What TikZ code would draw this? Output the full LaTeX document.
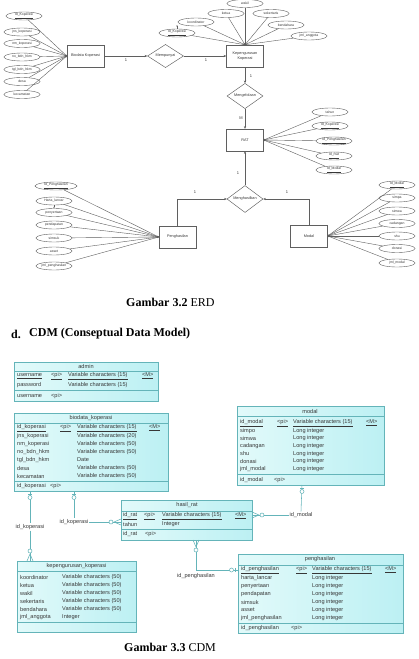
\documentclass[tikz,border=0pt]{standalone}
\usepackage{fontspec}
\setmainfont{Liberation Serif}
\setsansfont{Liberation Sans}
\usetikzlibrary{shapes.geometric,arrows.meta,calc}
\definecolor{tb}{RGB}{100,180,185}
\definecolor{tf1}{RGB}{226,250,250}
\definecolor{tf2}{RGB}{188,240,243}
\definecolor{tt}{RGB}{55,55,55}
\definecolor{el}{RGB}{95,95,95}
\newcounter{cellc}
\newcommand\tcell[3]{\stepcounter{cellc}\node[tcellst] (c\arabic{cellc}) at (#1,#2) {#3};}
\newcommand\kul[1]{\underline{#1}}
\tikzset{
  attr/.style={ellipse, draw=el, line width=0.4pt, minimum width=36pt, minimum height=8pt, inner sep=0pt, font=\sffamily\fontsize{3.4}{4}\selectfont, text=tt},
  ent/.style={rectangle, draw=el, line width=0.45pt, minimum width=37pt, minimum height=22pt, inner sep=0pt, font=\sffamily\fontsize{3.8}{4.4}\selectfont, text=tt, align=center},
  rel/.style={diamond, draw=el, line width=0.45pt, minimum width=36pt, minimum height=22pt, inner sep=0pt, font=\sffamily\fontsize{3.8}{4.4}\selectfont, text=tt},
  erl/.style={draw=el, line width=0.4pt},
  earr/.style={-{Stealth[length=2.6pt,width=2.2pt]}},
  tarr/.style={-{Stealth[length=1.6pt,width=1.4pt]}},
  card/.style={font=\sffamily\fontsize{4}{4.5}\selectfont, text=tt, inner sep=0pt},
  tbl/.style={draw=tb, line width=0.55pt, left color=tf1, right color=tf2, inner sep=0pt, outer sep=0pt, anchor=north west},
  tcellst/.style={anchor=west, inner sep=0pt, font=\sffamily\fontsize{5.6}{6}\selectfont, text=tt},
  lnk/.style={draw=tb, line width=0.55pt},
  lbl/.style={font=\sffamily\fontsize{5.6}{6}\selectfont, text=tt, inner sep=0.8pt},
  captxt/.style={font=\fontsize{12}{14}\selectfont, inner sep=0pt}
}
\begin{document}
\begin{tikzpicture}[x=1pt,y=-1pt]
\useasboundingbox[fill=white] (0,0) rectangle (418,659);

% ================= ERD =================
\node[ent] (bio) at (85.5,56) {Biodata Koperasi};
\node[rel] (mem) at (165.5,56) {Mempunyai};
\node[ent] (kep) at (245,56) {Kepengurusan\\Koperasi};
\node[rel] (mgl) at (245,96) {Mengelolaan};
\node[ent] (rat) at (245,140) {RAT};
\node[rel] (mgh) at (245,199) {Menghasilkan};
\node[ent] (phs) at (177.5,237) {Penghasilan};
\node[ent] (mdl) at (309,236) {Modal};

\draw[erl,earr] (bio) -- (mem);
\draw[erl,earr] (mem) -- (kep);
\draw[erl,earr] (kep) -- (mgl);
\draw[erl,earr] (mgl) -- (rat);
\draw[erl,earr] (mgh) -- (rat);
\draw[erl,earr] (phs.north) |- (mgh.west);
\draw[erl,earr] (mdl.north) |- (mgh.east);

\node[card] (n1) at (126,60) {1};
\node[card] (n2) at (206,60) {1};
\node[card] (n3) at (251,76) {1};
\node[card] (n4) at (241,118) {M};
\node[card] (n5) at (238,173) {1};
\node[card] (n6) at (195,192) {1};
\node[card] (n7) at (287,192) {1};

% Biodata attributes
\node[attr] (a1) at (24,16) {\kul{Id\_Koperasi}};
\node[attr] (a2) at (22,32) {jns\_koperasi};
\node[attr] (a3) at (22,43.5) {nm\_koperasi};
\node[attr] (a4) at (22,57) {no\_bdn\_hkm};
\node[attr] (a5) at (22,69.5) {tgl\_bdn\_hkm};
\node[attr] (a6) at (22,81.5) {desa};
\node[attr] (a7) at (22,94.5) {kecamatan};
\foreach \i in {1,...,7} \draw[erl,tarr] (a\i) -- (bio.west);

% Kepengurusan attributes
\node[attr] (k1) at (245,3.5) {wakil};
\node[attr] (k2) at (226,13.5) {ketua};
\node[attr] (k3) at (271,13.5) {sekertaris};
\node[attr] (k4) at (286,25) {bendahara};
\node[attr] (k5) at (309,36) {jml\_anggota};
\node[attr] (k6) at (196,22) {koordinator};
\node[attr] (k7) at (177,33) {\kul{Id\_Koperasi}};
\foreach \i in {1,...,7} \draw[erl,tarr] (k\i) -- (kep.north);
\coordinate (k7t) at (177,25);
\draw[erl,tarr] (k7.north) -- (k7t);

% RAT attributes
\node[attr] (r1) at (330,112) {tahun};
\node[attr] (r2) at (330,126) {\kul{Id\_Koperasi}};
\node[attr] (r3) at (334,141) {\kul{Id\_Penghasilan}};
\node[attr] (r4) at (334,156) {\kul{Id\_Rat}};
\node[attr] (r5) at (334,170) {\kul{Id\_Modal}};
\foreach \i in {1,...,5} \draw[erl,tarr] (r\i) -- (rat.east);

% Penghasilan attributes
\node[attr,minimum width=42pt] (p1) at (56,186) {\kul{Id\_Penghasilan}};
\node[attr] (p2) at (54,201) {Harta\_lancar};
\node[attr] (p3) at (54,212.5) {penyertaan};
\node[attr] (p4) at (54,225) {pendapatan};
\node[attr] (p5) at (54,238) {simsuk};
\node[attr] (p6) at (54,251) {asset};
\node[attr] (p7) at (54,266) {jml\_penghasilan};
\foreach \i in {1,...,7} \draw[erl,tarr] (p\i) -- (phs.west);
\draw[erl,tarr] (p2.south) -- (p3.north);

% Modal attributes
\node[attr] (m1) at (397,185) {\kul{Id\_Modal}};
\node[attr] (m2) at (397,198) {simpa};
\node[attr] (m3) at (397,211) {simwa};
\node[attr] (m4) at (397,223.5) {cadangan};
\node[attr] (m5) at (397,236) {shu};
\node[attr] (m6) at (397,248.5) {donasi};
\node[attr] (m7) at (397,263) {jml\_modal};
\foreach \i in {1,...,7} \draw[erl,tarr] (m\i) -- (mdl.east);

% captions
\node[captxt,anchor=west] (cap1) at (126,302) {\textbf{Gambar 3.2} ERD};
\node[captxt,anchor=west] (dd) at (11,334) {\textbf{d.}};
\node[captxt,anchor=west] (cap2) at (29,334) {\textbf{CDM (Conseptual Data Model)}};
\node[captxt,anchor=west] (cap3) at (124,647) {\textbf{Gambar 3.3} CDM};

% ================= CDM =================
% admin
\node[tbl,minimum width=144pt,minimum height=39pt] (adm) at (14,362) {};
\draw[lnk] (14,371) -- (158,371);
\draw[lnk] (14,390) -- (158,390);
\node[lbl] (admh) at (86,366.5) {admin};
\tcell{17}{376}{\kul{username}}
\tcell{51}{376}{\kul{<pi>}}
\tcell{68}{376}{\kul{Variable characters (15)}}
\tcell{142}{376}{\kul{<M>}}
\tcell{17}{385}{password}
\tcell{68}{385}{Variable characters (15)}
\tcell{17}{396}{username}
\tcell{51}{396}{<pi>}

% biodata_koperasi
\node[tbl,minimum width=154pt,minimum height=78pt] (bk) at (14,413) {};
\draw[lnk] (14,423) -- (168,423);
\draw[lnk] (14,481) -- (168,481);
\node[lbl] (bkh) at (91,418) {biodata\_koperasi};
\tcell{17}{428}{\kul{id\_koperasi}}
\tcell{60}{428}{\kul{<pi>}}
\tcell{77}{428}{\kul{Variable characters (15)}}
\tcell{149}{428}{\kul{<M>}}
\tcell{17}{436}{jns\_koperasi}
\tcell{77}{436}{Variable characters (20)}
\tcell{17}{444}{nm\_koperasi}
\tcell{77}{444}{Variable characters (50)}
\tcell{17}{452}{no\_bdn\_hkm}
\tcell{77}{452}{Variable characters (50)}
\tcell{17}{460}{tgl\_bdn\_hkm}
\tcell{77}{460}{Date}
\tcell{17}{468}{desa}
\tcell{77}{468}{Variable characters (50)}
\tcell{17}{476}{kecamatan}
\tcell{77}{476}{Variable characters (50)}
\tcell{17}{486}{id\_koperasi}
\tcell{50}{486}{<pi>}

% modal
\node[tbl,minimum width=147pt,minimum height=79pt] (md) at (237,406) {};
\draw[lnk] (237,416) -- (384,416);
\draw[lnk] (237,474) -- (384,474);
\node[lbl] (mdh) at (310,411.5) {modal};
\tcell{240}{423}{\kul{id\_modal}}
\tcell{277}{423}{\kul{<pi>}}
\tcell{293}{423}{\kul{Variable characters (15)}}
\tcell{366}{423}{\kul{<M>}}
\tcell{240}{430.7}{simpo}
\tcell{293}{430.7}{Long integer}
\tcell{240}{438.4}{simwa}
\tcell{293}{438.4}{Long integer}
\tcell{240}{446.1}{cadangan}
\tcell{293}{446.1}{Long integer}
\tcell{240}{453.8}{shu}
\tcell{293}{453.8}{Long integer}
\tcell{240}{461.5}{donasi}
\tcell{293}{461.5}{Long integer}
\tcell{240}{469.2}{jml\_modal}
\tcell{293}{469.2}{Long integer}
\tcell{240}{480}{id\_modal}
\tcell{274}{480}{<pi>}

% hasil_rat
\node[tbl,minimum width=131pt,minimum height=40pt] (hr) at (121,500) {};
\draw[lnk] (121,511) -- (252,511);
\draw[lnk] (121,529) -- (252,529);
\node[lbl] (hrh) at (187,505.5) {hasil\_rat};
\tcell{123}{516}{\kul{id\_rat}}
\tcell{144}{516}{\kul{<pi>}}
\tcell{162}{516}{\kul{Variable characters (15)}}
\tcell{235}{516}{\kul{<M>}}
\tcell{123}{524}{tahun}
\tcell{162}{524}{Integer}
\tcell{123}{534}{id\_rat}
\tcell{145}{534}{<pi>}

% kepengurusan_koperasi
\node[tbl,minimum width=119pt,minimum height=71pt] (kk) at (17,561) {};
\draw[lnk] (17,571) -- (136,571);
\draw[lnk] (17,622) -- (136,622);
\node[lbl] (kkh) at (76.5,566) {kepengurusan\_koperasi};
\tcell{20}{577}{koordinator}
\tcell{62}{577}{Variable characters (50)}
\tcell{20}{585}{ketua}
\tcell{62}{585}{Variable characters (50)}
\tcell{20}{593}{wakil}
\tcell{62}{593}{Variable characters (50)}
\tcell{20}{601}{sekertaris}
\tcell{62}{601}{Variable characters (50)}
\tcell{20}{609}{bendahara}
\tcell{62}{609}{Variable characters (50)}
\tcell{20}{617}{jml\_anggota}
\tcell{62}{617}{Integer}

% penghasilan
\node[tbl,minimum width=165pt,minimum height=79pt] (ph) at (238,554) {};
\draw[lnk] (238,565) -- (403,565);
\draw[lnk] (238,623) -- (403,623);
\node[lbl] (phh) at (320,559.5) {penghasilan};
\tcell{241}{570}{\kul{id\_penghasilan}}
\tcell{296}{570}{\kul{<pi>}}
\tcell{312}{570}{\kul{Variable characters (15)}}
\tcell{385}{570}{\kul{<M>}}
\tcell{241}{578}{harta\_lancar}
\tcell{312}{578}{Long integer}
\tcell{241}{586}{penyertaan}
\tcell{312}{586}{Long integer}
\tcell{241}{594}{pendapatan}
\tcell{312}{594}{Long integer}
\tcell{241}{602}{simsuk}
\tcell{312}{602}{Long integer}
\tcell{241}{610}{asset}
\tcell{312}{610}{Long integer}
\tcell{241}{618}{jml\_penghasilan}
\tcell{312}{618}{Long integer}
\tcell{241}{628}{id\_penghasilan}
\tcell{291}{628}{<pi>}

% ---- links ----
% biodata -> kepengurusan
\node[lbl] (l1) at (30,527) {id\_koperasi};
\draw[lnk] (bk.south -| 30,0) -- (l1.north);
\draw[lnk] (l1.south) -- (kk.north -| 30,0);
\draw[lnk] (28,494) -- (32,494);
\draw[lnk,fill=white] (30,497.5) circle (2pt);
\draw[lnk,fill=white] (30,551) circle (2pt);
\draw[lnk] (30,554) -- (27,561) (30,554) -- (33,561);

% biodata -> hasil_rat
\node[lbl] (l2) at (74,522) {id\_koperasi};
\draw[lnk] (bk.south -| 74,0) -- (l2.north);
\draw[lnk] (l2.east) -- (hr.west |- 0,522);
\draw[lnk] (72,494) -- (76,494);
\draw[lnk,fill=white] (74,497.5) circle (2pt);
\draw[lnk] (114,522) -- (121,519) (114,522) -- (121,525);
\draw[lnk,fill=white] (111,522) circle (2pt);

% hasil_rat -> modal
\node[lbl] (l3) at (301,515) {id\_modal};
\draw[lnk] (hr.east |- 0,515) -- (l3.west);
\draw[lnk] (l3.north) -- (md.south -| 302,0);
\draw[lnk] (259,515) -- (252,512) (259,515) -- (252,518);
\draw[lnk,fill=white] (262,515) circle (2pt);
\draw[lnk] (300,488) -- (304,488);
\draw[lnk,fill=white] (302,491.5) circle (2pt);

% hasil_rat -> penghasilan
\node[lbl] (l4) at (196,576) {id\_penghasilan};
\coordinate (cr4) at (196,570);
\draw[lnk] (hr.south -| 196,0) -- (cr4) -- (ph.west |- 0,570);
\draw[lnk] (196,547) -- (193,540) (196,547) -- (199,540);
\draw[lnk,fill=white] (196,550) circle (2pt);
\draw[lnk] (235,568) -- (235,572);
\draw[lnk,fill=white] (231.5,570) circle (2pt);
\end{tikzpicture}
\end{document}
